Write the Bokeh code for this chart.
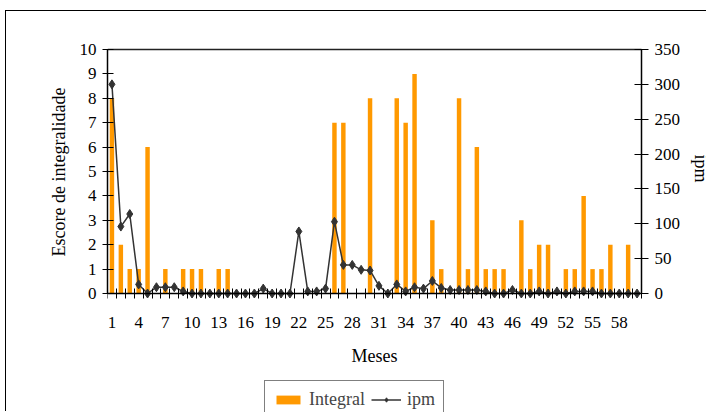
import math
from bokeh.plotting import figure
from bokeh.models import (Range1d, LinearAxis, FixedTicker, Legend, LegendItem,
                          ColumnDataSource, Title, Label)
from bokeh.embed import file_html
from bokeh.resources import INLINE

# Monthly series
months = list(range(1, 61))
integral = [8, 2, 1, 1, 6, 0, 1, 0, 1, 1, 1, 0, 1, 1,
            0, 0, 0, 0, 0, 0, 0, 0, 0, 0, 0,
            7, 7, 0, 0, 8, 0, 0, 8, 7, 9, 0, 3, 1, 0, 8, 1, 6,
            1, 1, 1, 0, 3, 1, 2, 2, 0, 1, 1, 4, 1, 1, 2, 0, 2, 0]
ipm = [300, 96, 114, 13, 0, 9, 9, 9, 3,
       0, 0, 0, 0, 0, 0, 0, 0,
       7, 0, 0, 0, 89, 3, 3, 7, 103, 41, 41, 34, 33, 11, 0, 13, 3, 9, 7, 18, 8,
       5, 5, 5, 5, 3, 0, 0, 5, 0, 0, 3, 0, 3, 0, 3, 3, 3, 0, 0, 0, 0, 0]
x_tick_labels = list(range(1, 61, 3))
left_ticks = list(range(0, 11))
right_ticks = list(range(0, 351, 50))

FONT = "Liberation Serif"
ORANGE = "#FF9900"
DARK = "#333333"

# layout: the frame fills the canvas to the right of the left axis; the plot
# band (months x 0..10) sits inside it and the month axis, the ipm axis, the
# plot's top edge, the titles and the legend are drawn inside the frame too
W, H = 701, 401
LEFT = 101
PAD_TOP = 38                      # space above the plot band
PLOT_W, PLOT_H = 534, 244         # size of the plot band in pixels
frame_w, frame_h = W - LEFT, H
pad_bottom = frame_h - PAD_TOP - PLOT_H
x_lo, x_hi = 0.5, len(months) + 0.5
x_max = x_lo + (x_hi - x_lo) * frame_w / PLOT_W
left_top, right_top = 10, 350
left_rng = (-left_top * pad_bottom / PLOT_H, left_top * (1 + PAD_TOP / PLOT_H))
right_rng = (-right_top * pad_bottom / PLOT_H, right_top * (1 + PAD_TOP / PLOT_H))

src = ColumnDataSource(dict(month=months, integral=integral, ipm=ipm))

p = figure(width=W, height=H, output_backend="svg", toolbar_location=None,
           x_range=Range1d(x_lo, x_max), y_range=Range1d(*left_rng),
           min_border_left=LEFT, min_border_right=0,
           min_border_top=0, min_border_bottom=0,
           background_fill_color="white", border_fill_color="white",
           styles={"margin-left": "5px", "margin-top": "10px",
                   "border-left": "1px solid black",
                   "border-top": "1px solid black"})
p.title.visible = False
p.extra_y_ranges = {"ipm": Range1d(*right_rng)}
p.xgrid.visible = False
p.ygrid.visible = False
p.outline_line_color = None

bars = p.vbar(x="month", top="integral", width=0.5, source=src,
              fill_color=ORANGE, line_color=None)
line = p.line(x="month", y="ipm", source=src, y_range_name="ipm",
              line_color=DARK, line_width=1.5)
marks = p.scatter(x="month", y="ipm", source=src, y_range_name="ipm",
                  marker="diamond", size=9, fill_color=DARK, line_color=DARK)

# month axis at zero: labels every third month, cross ticks between months
xa = p.xaxis[0]
xa.fixed_location = 0
xa.bounds = (x_lo, x_hi)
xa.ticker = FixedTicker(ticks=x_tick_labels,
                        minor_ticks=[m + 0.5 for m in range(0, 61)])
xa.major_tick_in = 0
xa.major_tick_out = 0
xa.minor_tick_in = 5
xa.minor_tick_out = 5
xa.minor_tick_line_color = "black"
xa.major_label_standoff = 18
xa.axis_label = "Meses"
xa.axis_label_standoff = 15

# left axis
ya = p.yaxis[0]
ya.bounds = (0, left_top)
ya.ticker = FixedTicker(ticks=left_ticks)
ya.major_tick_in = 6
ya.major_tick_out = 5
ya.minor_tick_line_color = None
ya.major_label_standoff = 6

# right axis, pinned to the end of the last month
ra = LinearAxis(y_range_name="ipm", ticker=FixedTicker(ticks=right_ticks),
                bounds=(0, right_top), fixed_location=x_hi)
ra.major_tick_in = 7
ra.major_tick_out = 7
ra.minor_tick_line_color = None
ra.major_label_standoff = 6
p.add_layout(ra, "right")

for ax in (xa, ya, ra):
    ax.axis_line_color = "black"
    ax.axis_line_width = 1.5
    ax.major_tick_line_color = "black" if ax is not xa else None
    ax.major_label_text_font = FONT
    ax.major_label_text_font_size = "17px"
    ax.major_label_text_color = "black"
    ax.axis_label_text_font = FONT
    ax.axis_label_text_font_size = "18px"
    ax.axis_label_text_font_style = "normal"
    ax.axis_label_text_color = "black"

# top edge of the plot band
top = LinearAxis(ticker=FixedTicker(ticks=[]), bounds=(x_lo, x_hi),
                 fixed_location=left_top,
                 axis_line_color="#222222", axis_line_width=1.5,
                 major_tick_line_color=None, minor_tick_line_color=None,
                 major_label_text_font_size="0px")
p.add_layout(top, "above")

# vertical axis titles, centred on the plot band
p.add_layout(Title(text="Escore de integralidade", align="right",
                   offset=PAD_TOP + 38, standoff=15, vertical_align="bottom",
                   text_font=FONT, text_font_size="18px",
                   text_font_style="normal", text_color="black"), "left")
p.add_layout(Label(x=frame_w - 7, y=pad_bottom + PLOT_H / 2 + 3,
                   x_units="screen", y_units="screen", text="ipm",
                   angle=-math.pi / 2, text_align="center",
                   text_baseline="alphabetic", text_font=FONT,
                   text_font_size="18px", text_color="black"))

legend = Legend(items=[LegendItem(label="Integral", renderers=[bars]),
                       LegendItem(label="ipm", renderers=[line, marks])],
                orientation="horizontal", location=(157, -7), margin=0,
                padding=8, spacing=6, glyph_width=30, glyph_height=11,
                label_standoff=6, label_text_font=FONT,
                label_text_font_size="18px", border_line_color="black",
                border_line_width=1, background_fill_color="white",
                background_fill_alpha=1)
p.add_layout(legend, "center")

open("out.html", "w").write(file_html(p, INLINE))
